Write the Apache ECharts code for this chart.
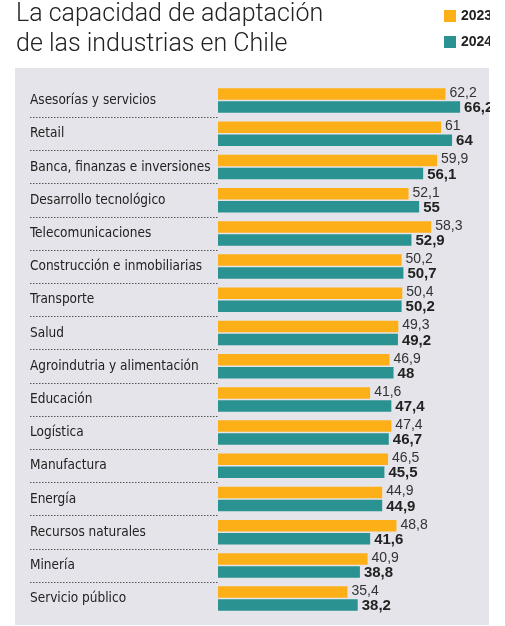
<!DOCTYPE html>
<html><head><meta charset="utf-8">
<script src="https://cdn.jsdelivr.net/npm/echarts@6/dist/echarts.min.js"></script>
<style>html,body{margin:0;padding:0;background:#fff}#c{width:490px;height:626px;overflow:hidden}</style>
</head><body><div id="c"></div><script>
const categories = ["Asesorías y servicios","Retail","Banca, finanzas e inversiones","Desarrollo tecnológico","Telecomunicaciones","Construcción e inmobiliarias","Transporte","Salud","Agroindutria y alimentación","Educación","Logística","Manufactura","Energía","Recursos naturales","Minería","Servicio público"];
const values2023 = [62.2,61,59.9,52.1,58.3,50.2,50.4,49.3,46.9,41.6,47.4,46.5,44.9,48.8,40.9,35.4];
const values2024 = [66.2,64,56.1,55,52.9,50.7,50.2,49.2,48,47.4,46.7,45.5,44.9,41.6,38.8,38.2];
const seriesNames = ["2023","2024"];
const colors = ["#FCAF17","#2A9290"];

const fmt = p => String(p.value).replace('.', ',');
const chart = echarts.init(document.getElementById('c'), null, {renderer:'canvas'});
const narrow = "'Liberation Sans Narrow','DejaVu Sans Condensed','Roboto Condensed',sans-serif";
chart.setOption({
  animation:false,
  backgroundColor:'#fff',
  graphic:[{type:'rect', z:-10, shape:{x:15,y:68,width:474,height:557}, style:{fill:'#E5E4EA'}}],
  title:{text:"La capacidad de adaptación\nde las industrias en Chile", left:11, top:-5,
    textStyle:{fontFamily:"Roboto,'Liberation Sans',sans-serif", fontWeight:300, fontSize:25, lineHeight:30, color:'#222'}},
  legend:{orient:'vertical', left:439, top:4, itemWidth:12, itemHeight:12, itemGap:12, icon:'rect',
    textStyle:{fontFamily:"'Liberation Sans',Arial,sans-serif", fontWeight:'bold', fontSize:14, color:'#222'}},
  grid:[
    {left:218, top:84, width:256, height:531.2},
    {left:30, top:117.2, width:188, height:464.8}
  ],
  xAxis:[
    {type:'value', gridIndex:0, min:0, max:70, show:false},
    {type:'value', gridIndex:1, min:0, max:1, show:false}
  ],
  yAxis:[
    {type:'category', gridIndex:0, data:categories, inverse:true,
      axisLine:{show:false}, axisTick:{show:false}, splitLine:{show:false},
      axisLabel:{show:true, align:'left', margin:188, padding:[4,0,0,0], fontFamily:narrow, fontSize:13.5, color:'#222'}},
    {type:'value', gridIndex:1, min:0, max:14, interval:1,
      axisLine:{show:false}, axisTick:{show:false}, axisLabel:{show:false},
      splitLine:{show:true, lineStyle:{type:[1.5,1.5], color:'#555', width:1}}}
  ],
  series:[
    {name:seriesNames[0], type:'bar', xAxisIndex:0, yAxisIndex:0, data:values2023, barWidth:11.5, barGap:'13%',
      itemStyle:{color:colors[0]},
      label:{show:true, position:'right', distance:4, offset:[0,-1], formatter:fmt, fontFamily:"'Liberation Sans',Arial,sans-serif", fontSize:14, color:'#333'}},
    {name:seriesNames[1], type:'bar', xAxisIndex:0, yAxisIndex:0, data:values2024, barWidth:11.5, barGap:'13%',
      itemStyle:{color:colors[1]},
      label:{show:true, position:'right', distance:4, offset:[0,1], formatter:fmt, fontFamily:"'Liberation Sans',Arial,sans-serif", fontWeight:'bold', fontSize:15, color:'#222'}}
  ]
});
</script></body></html>
